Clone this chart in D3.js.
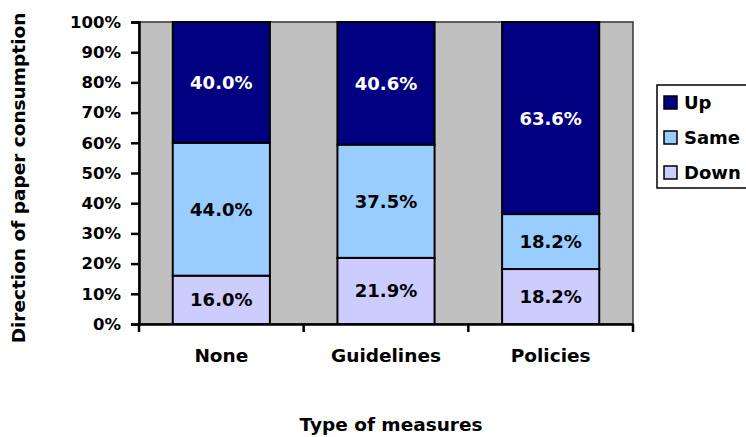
<!DOCTYPE html>
<html>
<head>
<meta charset="utf-8">
<script src="https://cdn.jsdelivr.net/npm/d3@7"></script>
<style>
  html, body { margin: 0; padding: 0; background: #fff; }
  svg { display: block; font-family: "DejaVu Sans", sans-serif; font-weight: bold; }
</style>
</head>
<body>
<svg id="chart" width="746" height="437"></svg>
<script>
// Share of respondents by direction of paper consumption, per type of measure
const categories = ["None", "Guidelines", "Policies"];
const seriesNames = ["Down", "Same", "Up"];          // stacking order, bottom to top
const downValues = [16.0, 21.9, 18.2];
const sameValues = [44.0, 37.5, 18.2];
const upValues   = [40.0, 40.6, 63.6];
const yTicks = [0, 10, 20, 30, 40, 50, 60, 70, 80, 90, 100];
const legendOrder = ["Up", "Same", "Down"];

const colors = { Up: "#000080", Same: "#99CCFF", Down: "#CCCCFF" };
const labelColors = { Up: "#ffffff", Same: "#000000", Down: "#000000" };

const rows = categories.map((c, i) => ({
  category: c, Down: downValues[i], Same: sameValues[i], Up: upValues[i]
}));

const svg = d3.select("#chart");
const plot = { left: 139, right: 633, top: 22, bottom: 324 };

const x = d3.scaleBand()
  .domain(categories)
  .range([plot.left, plot.right])
  .paddingInner(0.41)
  .paddingOuter(0.205);

const y = d3.scaleLinear().domain([0, 100]).range([plot.bottom, plot.top]);

// plot background
svg.append("rect")
  .attr("x", plot.left).attr("y", plot.top)
  .attr("width", plot.right - plot.left).attr("height", plot.bottom - plot.top)
  .attr("fill", "#C0C0C0")
  .attr("stroke", "#333").attr("stroke-width", 1.5);

// stacked bars
const stack = d3.stack().keys(seriesNames)(rows);
const layers = svg.append("g").selectAll("g").data(stack).join("g")
  .attr("fill", d => colors[d.key]);

layers.selectAll("rect").data(d => d.map(p => ({ p, key: d.key }))).join("rect")
  .attr("x", d => x(d.p.data.category))
  .attr("width", x.bandwidth())
  .attr("y", d => y(d.p[1]))
  .attr("height", d => y(d.p[0]) - y(d.p[1]))
  .attr("stroke", "#000").attr("stroke-width", 2);

// value labels
layers.selectAll("text").data(d => d.map(p => ({ p, key: d.key }))).join("text")
  .attr("x", d => x(d.p.data.category) + x.bandwidth() / 2)
  .attr("y", d => (y(d.p[0]) + y(d.p[1])) / 2)
  .attr("dy", "0.36em")
  .attr("text-anchor", "middle")
  .attr("font-size", 18)
  .attr("fill", d => labelColors[d.key])
  .text(d => (d.p[1] - d.p[0]).toFixed(1) + "%");

// y axis
const yAxis = svg.append("g")
  .attr("transform", `translate(${plot.left},0)`)
  .call(d3.axisLeft(y).tickValues(yTicks).tickFormat(d => d + "%").tickSize(8).tickPadding(10));
yAxis.select(".domain").attr("stroke", "#000").attr("stroke-width", 2.5);
yAxis.selectAll(".tick line").attr("stroke", "#000").attr("stroke-width", 2.5);
yAxis.selectAll(".tick text")
  .attr("font-size", 16.5).attr("font-family", "DejaVu Sans, sans-serif")
  .attr("font-weight", "bold").attr("fill", "#000");

// x axis: baseline with boundary ticks between categories
const xAxis = svg.append("g")
  .attr("transform", `translate(0,${plot.bottom})`)
  .call(d3.axisBottom(x).tickSize(0).tickPadding(25));
xAxis.select(".domain").attr("stroke", "#000").attr("stroke-width", 2.5);
xAxis.selectAll(".tick text")
  .attr("font-size", 18.5).attr("font-family", "DejaVu Sans, sans-serif")
  .attr("font-weight", "bold").attr("fill", "#000");
const boundaries = categories.map(c => x(c) - x.step() * x.paddingInner() / 2)
  .concat([plot.right]);
xAxis.selectAll(".bound").data(boundaries).join("line")
  .attr("class", "bound")
  .attr("x1", d => d).attr("x2", d => d)
  .attr("y1", 0).attr("y2", 8)
  .attr("stroke", "#000").attr("stroke-width", 2.5);

// axis titles
svg.append("text")
  .attr("x", 391).attr("y", 431)
  .attr("text-anchor", "middle").attr("font-size", 18.5)
  .text("Type of measures");
svg.append("text")
  .attr("transform", `translate(25,178) rotate(-90)`)
  .attr("text-anchor", "middle").attr("font-size", 18.5)
  .text("Direction of paper consumption");

// legend
const legend = svg.append("g");
legend.append("rect")
  .attr("x", 657).attr("y", 85).attr("width", 100).attr("height", 103)
  .attr("fill", "#fff").attr("stroke", "#000").attr("stroke-width", 1.5);
const items = legend.selectAll("g.item").data(legendOrder).join("g")
  .attr("class", "item")
  .attr("transform", (d, i) => `translate(664,${103 + i * 35})`);
items.append("rect")
  .attr("x", 0).attr("y", -7).attr("width", 13).attr("height", 13)
  .attr("fill", d => colors[d]).attr("stroke", "#000").attr("stroke-width", 1.5);
items.append("text")
  .attr("x", 20).attr("y", 0).attr("dy", "0.36em")
  .attr("font-size", 18)
  .text(d => d);
</script>
</body>
</html>
